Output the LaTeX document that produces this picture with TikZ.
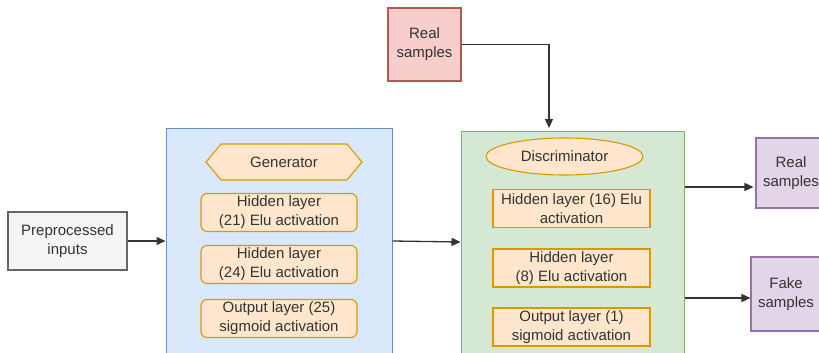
\documentclass[tikz,border=0pt]{standalone}
\usepackage{fontspec}
\setmainfont{Liberation Sans}
\usepackage{xcolor}
\usepackage{tikz}
\usetikzlibrary{arrows.meta,positioning,shapes.geometric,shapes.symbols}
\definecolor{inkgray}{HTML}{333333}
\definecolor{greyfill}{HTML}{F5F5F5}
\definecolor{greyline}{HTML}{666666}
\definecolor{genfill}{HTML}{DAE8FC}
\definecolor{genline}{HTML}{6C8EBF}
\definecolor{discfill}{HTML}{D5E8D4}
\definecolor{discline}{HTML}{82B366}
\definecolor{layerfill}{HTML}{FFE6CC}
\definecolor{layerline}{HTML}{D79B00}
\definecolor{realfill}{HTML}{F8CECC}
\definecolor{realline}{HTML}{B85450}
\definecolor{outfill}{HTML}{E1D5E7}
\definecolor{outline}{HTML}{9673A6}

\begin{document}
\begin{tikzpicture}[
  x=1pt,y=-1pt,
  font=\fontsize{15}{19}\selectfont,
  every node/.style={text=inkgray,align=center,inner sep=0pt,line width=1.1pt},
  block/.style={draw,rectangle,minimum width=#1},
  block/.default=73pt,
  container/.style={draw,rectangle,line width=1pt},
  layer/.style={draw=layerline,fill=layerfill,minimum width=156pt,minimum height=38pt},
  line/.style={-{Triangle[length=9pt,width=8pt]},line width=1.3pt,draw=inkgray}
]
\useasboundingbox (0,0) rectangle (819,353);
\clip (0,0) rectangle (819,353);
% input and reference samples
\node[block=119pt,minimum height=58pt,fill=greyfill,draw=greyline] (pre) at (67.5,241) {Preprocessed\\inputs};
\node[block,minimum height=73pt,fill=realfill,draw=realline] (real) at (424.5,44.5) {Real\\samples};
% generator
\node[container,fill=genfill,draw=genline,minimum width=226pt,minimum height=242pt] (gen) at (279,249) {};
\node[shape=signal,signal to=west and east,signal pointer angle=100,draw=layerline,fill=layerfill,minimum width=156pt,minimum height=36pt] (genhex) at (284,162) {Generator};
\node[layer,rounded corners=6pt] (gh1) at (279,212.5) {Hidden layer\\(21) Elu activation};
\node[layer,rounded corners=6pt] (gh2) at (279,264.5) {Hidden layer\\(24) Elu activation};
\node[layer,rounded corners=6pt] (gout) at (279,318.5) {Output layer (25)\\sigmoid activation};
% discriminator
\node[container,fill=discfill,draw=discline,minimum width=223pt,minimum height=239pt] (disc) at (572.5,250.5) {};
\node[ellipse,draw=layerline,fill=layerfill,minimum width=157pt,minimum height=37pt] (dell) at (564.5,156.5) {Discriminator};
\node[layer,minimum width=157pt] (dh1) at (571.5,208.5) {Hidden layer (16) Elu\\activation};
\node[layer,minimum width=157pt] (dh2) at (571.5,268) {Hidden layer\\(8) Elu activation};
\node[layer,minimum width=157pt] (dout) at (571.5,327) {Output layer (1)\\sigmoid activation};
% outputs
\node[block=70pt,minimum height=70pt,fill=outfill,draw=outline] (realout) at (791,173) {Real\\samples};
\node[block=70pt,minimum height=74pt,fill=outfill,draw=outline] (fake) at (786,294) {Fake\\samples};
\coordinate (dtop) at (549,128);
\draw[line] (pre.east) -- (gen.west |- pre.east);
\draw[line] (gen.east |- pre.east) -- ([yshift=-1pt]disc.west |- pre.east);
\draw[line] (real.east) -| (dtop);
\draw[line] ([yshift=-14pt]realout.west -| disc.east) -- ([yshift=-14pt,xshift=-2pt]realout.west);
\draw[line] ([yshift=-4pt]fake.west -| disc.east) -- ([yshift=-4pt]fake.west);
\end{tikzpicture}
\end{document}
